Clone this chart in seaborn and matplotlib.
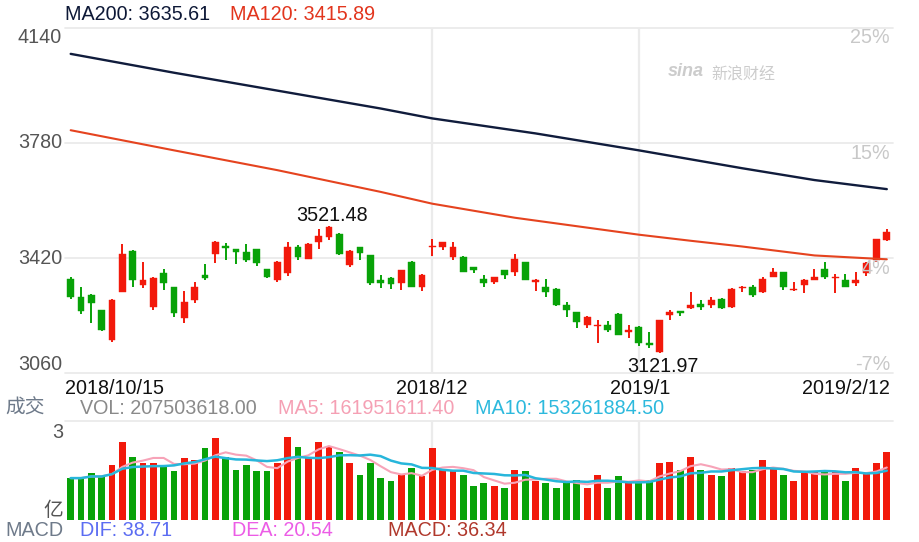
import numpy as np
import pandas as pd
import matplotlib
matplotlib.use("Agg")
import matplotlib.pyplot as plt
import seaborn as sns

# ---------------- data ----------------
opens = [3355, 3298, 3303, 3257, 3163, 3315, 3443, 3335, 3268, 3374,
         3329, 3232, 3288, 3366, 3434, 3459, 3448, 3438, 3448, 3386,
         3350, 3372, 3454, 3418, 3470, 3486, 3496, 3398, 3454, 3428,
         3351, 3356, 3341, 3407, 3330, 3455, 3455, 3423, 3423, 3391,
         3355, 3346, 3381, 3377, 3407, 3346, 3329, 3324, 3272, 3251,
         3211, 3206, 3210, 3246, 3187, 3205, 3154, 3127, 3242, 3254,
         3262, 3277, 3273, 3293, 3268, 3325, 3329, 3315, 3361, 3376,
         3319, 3335, 3352, 3386, 3356, 3350, 3341, 3372, 3413, 3475]
highs = [3361, 3330, 3307, 3258, 3291, 3464, 3444, 3408, 3360, 3387,
         3330, 3317, 3346, 3400, 3472, 3467, 3449, 3464, 3449, 3387,
         3412, 3470, 3460, 3466, 3511, 3521.48, 3498, 3446, 3455, 3429,
         3367, 3361, 3382, 3410, 3369, 3478, 3470, 3469, 3426, 3392,
         3366, 3361, 3382, 3433, 3408, 3355, 3353, 3325, 3283, 3252,
         3239, 3226, 3224, 3247, 3210, 3206, 3189, 3226, 3258, 3255,
         3315, 3289, 3298, 3294, 3325, 3331, 3334, 3360, 3389, 3377,
         3345, 3355, 3386, 3408, 3369, 3369, 3376, 3408, 3480, 3511]
lows = [3291, 3244, 3215, 3192, 3156, 3314, 3330, 3327, 3258, 3320,
        3234, 3215, 3278, 3351, 3403, 3413, 3402, 3407, 3395, 3356,
        3345, 3365, 3415, 3417, 3448, 3475, 3429, 3392, 3415, 3335,
        3327, 3324, 3320, 3329, 3317, 3426, 3444, 3415, 3376, 3372,
        3329, 3340, 3355, 3363, 3350, 3317, 3298, 3270, 3234, 3200,
        3201, 3153, 3189, 3179, 3170, 3146, 3138, 3121.97, 3227, 3237,
        3261, 3258, 3262, 3260, 3262, 3314, 3299, 3312, 3360, 3319,
        3318, 3312, 3351, 3353, 3312, 3329, 3332, 3365, 3408, 3472]
closes = [3299, 3253, 3279, 3196, 3288, 3433, 3351, 3350, 3356, 3341,
          3247, 3283, 3329, 3356, 3469, 3452, 3440, 3413, 3403, 3360,
          3407, 3454, 3423, 3465, 3490, 3516, 3434, 3443, 3436, 3341,
          3343, 3338, 3381, 3330, 3366, 3459, 3469, 3454, 3377, 3382,
          3341, 3360, 3367, 3417, 3351, 3351, 3315, 3273, 3258, 3221,
          3236, 3210, 3196, 3180, 3196, 3154, 3148, 3225, 3251, 3249,
          3272, 3268, 3288, 3262, 3324, 3330, 3304, 3355, 3376, 3329,
          3324, 3350, 3360, 3361, 3360, 3330, 3350, 3405, 3480, 3500]
volumes_m = [127, 127, 142, 132, 167, 237, 192, 172, 172, 167,
             147, 187, 182, 217, 247, 192, 152, 167, 147, 147,
             172, 252, 222, 187, 237, 222, 207, 172, 137, 172,
             127, 117, 137, 157, 132, 217, 152, 147, 137, 102,
             112, 102, 97, 152, 147, 117, 112, 97, 112, 122,
             97, 137, 97, 132, 117, 117, 122, 172, 177, 152,
             192, 152, 137, 132, 157, 147, 152, 182, 157, 137,
             117, 142, 147, 147, 147, 117, 157, 142, 172, 207.5]

ma200_idx = [0, 10, 20, 30, 35, 45, 55, 65, 72, 79]
ma200_val = [4059, 4000, 3944, 3888, 3857, 3810, 3757, 3701, 3664, 3635.61]
ma120_idx = [0, 10, 20, 30, 35, 43, 55, 60, 65, 72, 79]
ma120_val = [3820, 3757, 3695, 3627, 3590, 3546, 3493, 3474, 3456, 3428, 3415.89]

price_ticks = [4140, 3780, 3420, 3060]
pct_labels = ["25%", "15%", "4%", "-7%"]
date_labels = ["2018/10/15", "2018/12", "2019/1", "2019/2/12"]
date_idx = [0, 35, 55, 79]

# ---------------- style ----------------
sns.set_style("white")
plt.rcParams["font.family"] = ["Liberation Sans", "Noto Sans CJK SC", "DejaVu Sans"]

RED = "#f2190b"
GREEN = "#08a208"
GRID = "#ebebeb"
FS = 14.2

n = len(opens)
df = pd.DataFrame({"idx": np.arange(n), "open": opens, "high": highs,
                   "low": lows, "close": closes,
                   "vol": np.array(volumes_m) * 1e6})
df["dir"] = np.where(df["close"] >= df["open"], "up", "down")
df["color"] = np.where(df["dir"] == "up", RED, GREEN)
df["ma5"] = df["vol"].rolling(5, min_periods=1).mean()
df["ma10"] = df["vol"].rolling(10, min_periods=1).mean()

W, H = 919, 542
fig = plt.figure(figsize=(W / 100, H / 100), dpi=100)
def fx(px): return px / W
def fy(py): return 1 - py / H

L, R = 65, 893
ax = fig.add_axes([fx(L), fy(373), (R - L) / W, (373 - 28) / H])
axv = fig.add_axes([fx(L), fy(520), (R - L) / W, (520 - 421) / H])

xlim = (-0.55, n - 1 + 0.6)

# ---------------- main price panel ----------------
for t in price_ticks:
    ax.axhline(t, color=GRID, lw=1.3, zorder=0, clip_on=False)
for i in date_idx[1:3]:
    ax.axvline(i, color=GRID, lw=1.6, zorder=0)

ax.vlines(df["idx"], df["low"], df["high"], colors=df["color"], lw=1.4, zorder=2)
body_bottom = np.minimum(df["open"], df["close"])
body_h = np.maximum(np.abs(df["close"] - df["open"]), 1.2)
ax.bar(df["idx"], body_h, bottom=body_bottom, width=0.66, color=df["color"],
       edgecolor=df["color"], lw=0.3, zorder=3)

sns.lineplot(x=ma200_idx, y=ma200_val, ax=ax, color="#101c3c", lw=1.7, zorder=4)
sns.lineplot(x=ma120_idx, y=ma120_val, ax=ax, color="#e5431f", lw=1.5, zorder=4)

ax.set_xlim(*xlim)
ax.set_ylim(3060, 4140)
ax.set_xticks([]); ax.set_yticks([])
ax.set_xlabel(""); ax.set_ylabel("")
for s in ax.spines.values():
    s.set_visible(False)

# ---------------- volume panel ----------------
axv.axhline(3e8, color=GRID, lw=1.3, zorder=0, clip_on=False)
for i in date_idx[1:3]:
    axv.axvline(i, color=GRID, lw=1.6, zorder=0)
sns.barplot(data=df, x="idx", y="vol", hue="dir",
            palette={"up": RED, "down": GREEN}, native_scale=True,
            dodge=False, width=0.66, saturation=1, legend=False,
            ax=axv, zorder=2, linewidth=0)
sns.lineplot(x=df["idx"], y=df["ma5"], ax=axv, color="#f7a3b8", lw=1.5, zorder=3)
sns.lineplot(x=df["idx"], y=df["ma10"], ax=axv, color="#27b6db", lw=1.8, zorder=4)
axv.set_xlim(*xlim)
axv.set_ylim(0, 3e8)
axv.set_xticks([]); axv.set_yticks([])
axv.set_xlabel(""); axv.set_ylabel("")
for s in axv.spines.values():
    s.set_visible(False)

# ---------------- texts ----------------
def t(px, py, s, color, ha="left", size=FS, **kw):
    fig.text(fx(px), fy(py), s, color=color, ha=ha, va="center", fontsize=size, **kw)

t(65, 15, "MA200: 3635.61", "#0d1836")
t(230, 15, "MA120: 3415.89", "#e2351d")

for lab, py in zip([str(v) for v in price_ticks], [38, 143, 258, 365]):
    t(62, py, lab, "#555555", ha="right")
for lab, py in zip(pct_labels, [38, 153, 269, 365]):
    t(890, py, lab, "#c8c8c8", ha="right")

t(668, 72, "sina", "#cccccc", size=13, style="italic", weight="bold")
t(711, 75, "新浪财经", "#cccccc", size=11.5)

t(296, 215, f"{highs[25]:.2f}", "#111111")
t(627, 367, f"{lows[57]:.2f}", "#111111")

t(65, 388, date_labels[0], "#111111")
t(432, 388, date_labels[1], "#111111", ha="center")
t(640, 388, date_labels[2], "#111111", ha="center")
t(890, 388, date_labels[3], "#111111", ha="right")

t(5, 408, "成交", "#6e7a8a")
t(80, 408, "VOL: 207503618.00", "#8a8a8a")
t(278, 408, "MA5: 161951611.40", "#f5a0b4")
t(475, 408, "MA10: 153261884.50", "#2cb9dd")

t(63, 432, "3", "#555555", ha="right")
t(63, 510, "亿", "#555555", ha="right")

t(5, 530, "MACD", "#6e7a8a")
t(80, 530, "DIF: 38.71", "#5b6cf2")
t(232, 530, "DEA: 20.54", "#ec5ce6")
t(388, 530, "MACD: 36.34", "#b0382c")

fig.savefig("out.png", dpi=100, facecolor="white")
